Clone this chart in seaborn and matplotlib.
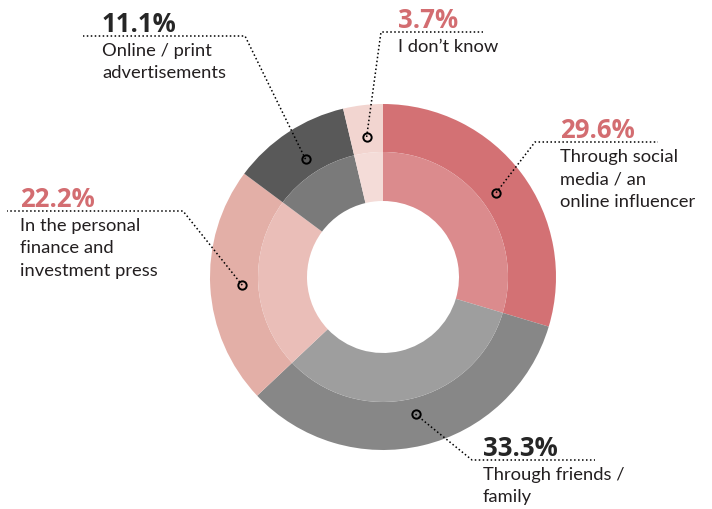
import matplotlib
matplotlib.use("Agg")
import matplotlib.pyplot as plt
import numpy as np
import seaborn as sns

# Survey answers, clockwise from 12 o'clock
categories = [
    "Through social\nmedia / an\nonline influencer",
    "Through friends /\nfamily",
    "In the personal\nfinance and\ninvestment press",
    "Online / print\nadvertisements",
    "I don\u2019t know",
]
shares = [29.6, 33.3, 22.2, 11.1, 3.7]
pct_labels = ["29.6%", "33.3%", "22.2%", "11.1%", "3.7%"]

outer_colors = ["#D37174", "#878787", "#E3AFA7", "#595959", "#F2D5D0"]
inner_colors = ["#DB8B8D", "#9E9E9E", "#EABEB8", "#7A7A7A", "#F4DCD8"]
pct_colors = ["#D36D71", "#262626", "#D36D71", "#262626", "#D36D71"]

sns.set_theme(style="white")
plt.rcParams["font.family"] = ["Lato", "DejaVu Sans"]

W, H = 712, 510
fig = plt.figure(figsize=(W / 100, H / 100), dpi=100)
ax = fig.add_axes([0, 0, 1, 1])

# pixel-like coordinate frame, y measured from the top
def Y(y):
    return H - y

cx, cy = 383, Y(278)
r_out, r_mid, r_in = 173, 125, 76

wedges, _ = ax.pie(shares, colors=outer_colors, startangle=90, counterclock=False,
                   radius=r_out, center=(cx, cy),
                   wedgeprops=dict(width=r_out - r_mid, linewidth=0))
ax.pie(shares, colors=inner_colors, startangle=90, counterclock=False,
       radius=r_mid, center=(cx, cy),
       wedgeprops=dict(width=r_mid - r_in, linewidth=0))

ax.set_xlim(0, W)
ax.set_ylim(0, H)
ax.set_aspect("equal")
ax.axis("off")

# callout layout: (kink x, kink y, line end x, text x)
callouts = [
    (535, 143, 658, 560),
    (472, 461, 595, 483),
    (183, 212, 7, 20),
    (245, 37, 83, 102),
    (381, 33, 483, 398),
]
r_dot = 141
dot_style = dict(color="black", linewidth=1.1, linestyle=(0, (1, 1.6)), zorder=4)

for w, cat, pct, pc, (kx, ky, ex, tx) in zip(wedges, categories, pct_labels,
                                               pct_colors, callouts):
    mid = np.deg2rad((w.theta1 + w.theta2) / 2)
    mx, my = cx + r_dot * np.cos(mid), cy + r_dot * np.sin(mid)
    ax.plot([mx, kx, ex], [my, Y(ky), Y(ky)], **dot_style)
    ax.plot(mx, my, marker="o", markersize=6, markerfacecolor="none",
            markeredgecolor="black", markeredgewidth=1.4, zorder=5)
    ax.text(tx, Y(ky - 5), pct, color=pc, fontsize=18.5, fontweight="bold",
            family=["Open Sans", "DejaVu Sans"], va="baseline", ha="left")
    for i, line in enumerate(cat.split("\n")):
        ax.text(tx, Y(ky + 19 + 22.3 * i), line, color="#231F20", fontsize=13.2,
                va="baseline", ha="left")

fig.savefig("out.png", dpi=100, facecolor="white")
